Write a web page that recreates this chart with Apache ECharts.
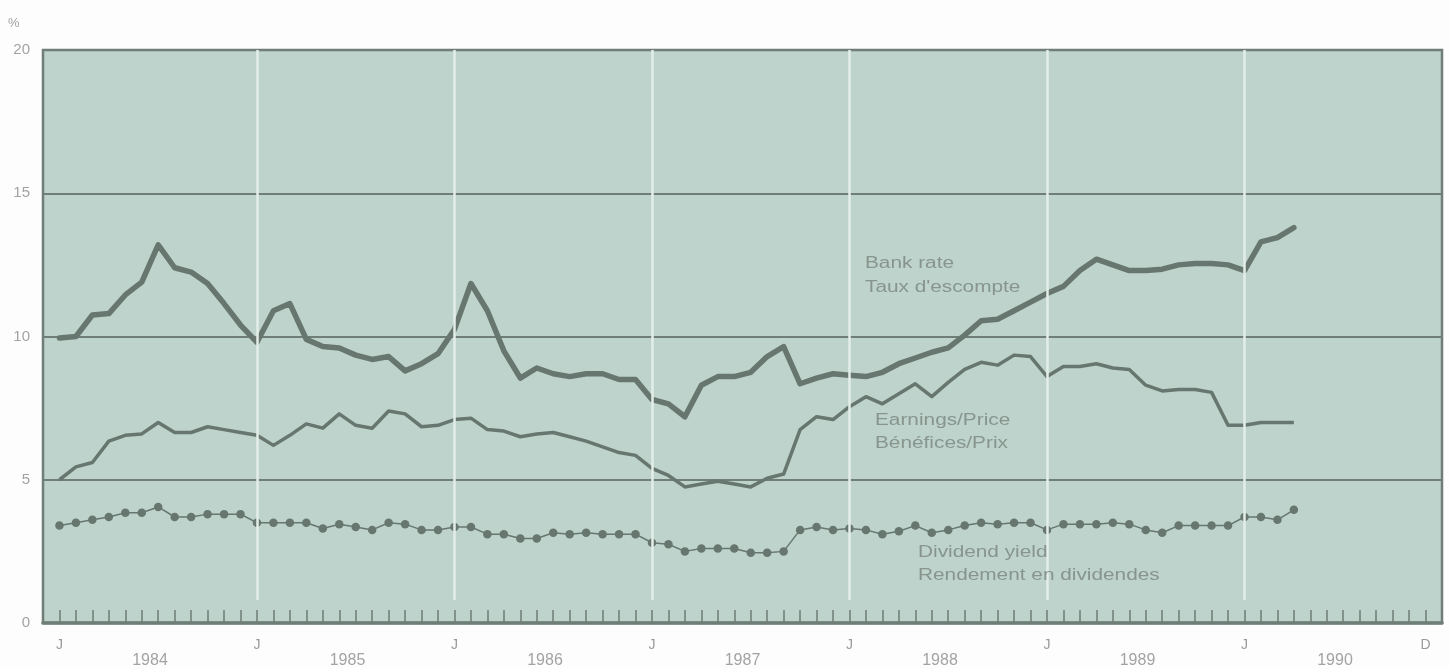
<!DOCTYPE html>
<html>
<head>
<meta charset="utf-8">
<script src="https://cdn.jsdelivr.net/npm/echarts@6/dist/echarts.min.js"></script>
<style>
  html, body { margin: 0; padding: 0; background: #fdfdfd; }
  #chart { width: 1449px; height: 669px; }
</style>
</head>
<body>
<div id="chart"></div>
<script>
// monthly, Jan 1984 = index 0 ... Apr 1990 = index 75
const bankRate = [
  9.95, 10.0, 10.75, 10.8, 11.45, 11.9, 13.2, 12.4, 12.25, 11.85, 11.15, 10.4,
  9.8, 10.9, 11.15, 9.9, 9.65, 9.6, 9.35, 9.2, 9.3, 8.8, 9.05, 9.4,
  10.25, 11.85, 10.9, 9.5, 8.55, 8.9, 8.7, 8.6, 8.7, 8.7, 8.5, 8.5,
  7.8, 7.65, 7.2, 8.3, 8.6, 8.6, 8.75, 9.3, 9.65, 8.35, 8.55, 8.7,
  8.65, 8.6, 8.75, 9.05, 9.25, 9.45, 9.6, 10.05, 10.55, 10.6, 10.9, 11.2,
  11.5, 11.75, 12.3, 12.7, 12.5, 12.3, 12.3, 12.35, 12.5, 12.55, 12.55, 12.5,
  12.3, 13.3, 13.45, 13.8
]
const earningsPrice = [
  5.0, 5.45, 5.6, 6.35, 6.55, 6.6, 7.0, 6.65, 6.65, 6.85, 6.75, 6.65,
  6.55, 6.2, 6.55, 6.95, 6.8, 7.3, 6.9, 6.8, 7.4, 7.3, 6.85, 6.9,
  7.1, 7.15, 6.75, 6.7, 6.5, 6.6, 6.65, 6.5, 6.35, 6.15, 5.95, 5.85,
  5.4, 5.15, 4.75, 4.85, 4.95, 4.85, 4.75, 5.05, 5.2, 6.75, 7.2, 7.1,
  7.55, 7.9, 7.65, 8.0, 8.35, 7.9, 8.4, 8.85, 9.1, 9.0, 9.35, 9.3,
  8.6, 8.95, 8.95, 9.05, 8.9, 8.85, 8.3, 8.1, 8.15, 8.15, 8.05, 6.9,
  6.9, 7.0, 7.0, 7.0
]
const dividendYield = [
  3.4, 3.5, 3.6, 3.7, 3.85, 3.85, 4.05, 3.7, 3.7, 3.8, 3.8, 3.8,
  3.5, 3.5, 3.5, 3.5, 3.3, 3.45, 3.35, 3.25, 3.5, 3.45, 3.25, 3.25,
  3.35, 3.35, 3.1, 3.1, 2.95, 2.95, 3.15, 3.1, 3.15, 3.1, 3.1, 3.1,
  2.8, 2.75, 2.5, 2.6, 2.6, 2.6, 2.45, 2.45, 2.5, 3.25, 3.35, 3.25,
  3.3, 3.25, 3.1, 3.2, 3.4, 3.15, 3.25, 3.4, 3.5, 3.45, 3.5, 3.5,
  3.25, 3.45, 3.45, 3.45, 3.5, 3.45, 3.25, 3.15, 3.4, 3.4, 3.4, 3.4,
  3.7, 3.7, 3.6, 3.95
]
const years = ['1984', '1985', '1986', '1987', '1988', '1989', '1990']
const januaryIdx = [0, 12, 24, 36, 48, 60, 72]
const monthLabel = { 0: 'J', 12: 'J', 24: 'J', 36: 'J', 48: 'J', 60: 'J', 72: 'J', 83: 'D' }
const yTicks = [0, 5, 10, 15, 20]

const lineCol = '#67776f'
const gridCol = '#6f7e77'
const textCol = '#88958f'
const labelFont = '16px "Liberation Sans", Arial, sans-serif'

const chart = echarts.init(document.getElementById('chart'))

const toPairs = arr => arr.map((v, i) => [i, v])

const notes = [
  ['Bank rate', 865, 264],
  ["Taux d'escompte", 865, 288],
  ['Earnings/Price', 875, 421],
  ['Bénéfices/Prix', 875, 444],
  ['Dividend yield', 918, 553],
  ['Rendement en dividendes', 918, 576]
]

chart.setOption({
  animation: false,
  backgroundColor: '#fdfdfd',
  grid: {
    left: 43, right: 7, top: 50, bottom: 46,
    show: true,
    backgroundColor: '#bdd3cb',
    borderColor: gridCol,
    borderWidth: 2.5
  },
  xAxis: [{
    type: 'value',
    min: -1, max: 84, interval: 1,
    axisLine: { show: true, lineStyle: { color: gridCol, width: 3.5 } },
    axisTick: { show: true, inside: true, length: 13, lineStyle: { color: gridCol, width: 1.5 } },
    splitLine: { show: false },
    axisLabel: {
      margin: 15,
      color: '#9a9a9a',
      fontSize: 14,
      fontFamily: 'Liberation Sans',
      showMinLabel: true, showMaxLabel: true,
      formatter: v => monthLabel[v] || ''
    }
  }, {
    type: 'value',
    min: -1, max: 84, interval: 0.5,
    position: 'bottom',
    axisLine: { show: false },
    axisTick: { show: false },
    splitLine: { show: false },
    axisLabel: {
      margin: 30,
      color: '#a3a3a3',
      fontSize: 16,
      fontFamily: 'Liberation Sans',
      formatter: v => {
        const k = (v - 5.5) / 12
        return Number.isInteger(k) && years[k] ? years[k] : ''
      }
    }
  }],
  yAxis: {
    type: 'value',
    min: yTicks[0], max: yTicks[yTicks.length - 1], interval: 5,
    name: '%',
    nameLocation: 'end',
    nameGap: 20,
    nameTextStyle: { color: '#a3a3a3', fontSize: 13, align: 'right', padding: [0, 40, 0, 0] },
    axisLine: { show: false },
    axisTick: { show: false },
    axisLabel: { margin: 13, color: '#a3a3a3', fontSize: 15, fontFamily: 'Liberation Sans' },
    splitLine: { show: true, lineStyle: { color: gridCol, width: 2 } }
  },
  series: [
    {
      type: 'line',
      data: [],
      z: 1,
      silent: true,
      markLine: {
        silent: true,
        symbol: 'none',
        label: { show: false },
        lineStyle: { color: '#e3ede9', width: 2.5, type: 'solid' },
        data: januaryIdx.slice(1).map(m => [{ coord: [m, 0.8] }, { coord: [m, 20] }])
      }
    },
    {
      name: 'Bank rate',
      type: 'line',
      z: 3,
      data: toPairs(bankRate),
      symbol: 'none',
      lineStyle: { color: lineCol, width: 5.5, join: 'round', cap: 'round' }
    },
    {
      name: 'Earnings/Price',
      type: 'line',
      z: 3,
      data: toPairs(earningsPrice),
      symbol: 'none',
      lineStyle: { color: lineCol, width: 3.5, join: 'round' }
    },
    {
      name: 'Dividend yield',
      type: 'line',
      z: 3,
      data: toPairs(dividendYield),
      symbol: 'circle',
      symbolSize: 8.5,
      showAllSymbol: true,
      itemStyle: { color: lineCol, borderWidth: 0 },
      lineStyle: { color: lineCol, width: 1.5 }
    }
  ],
  graphic: notes.map(([t, x, y]) => ({
    type: 'text',
    x: x, y: y,
    scaleX: 1.3,
    z: 10,
    silent: true,
    style: {
      text: t,
      font: labelFont,
      fill: textCol,
      align: 'left',
      verticalAlign: 'middle',
      textAlign: 'left',
      textVerticalAlign: 'middle'
    }
  }))
})
</script>
</body>
</html>
